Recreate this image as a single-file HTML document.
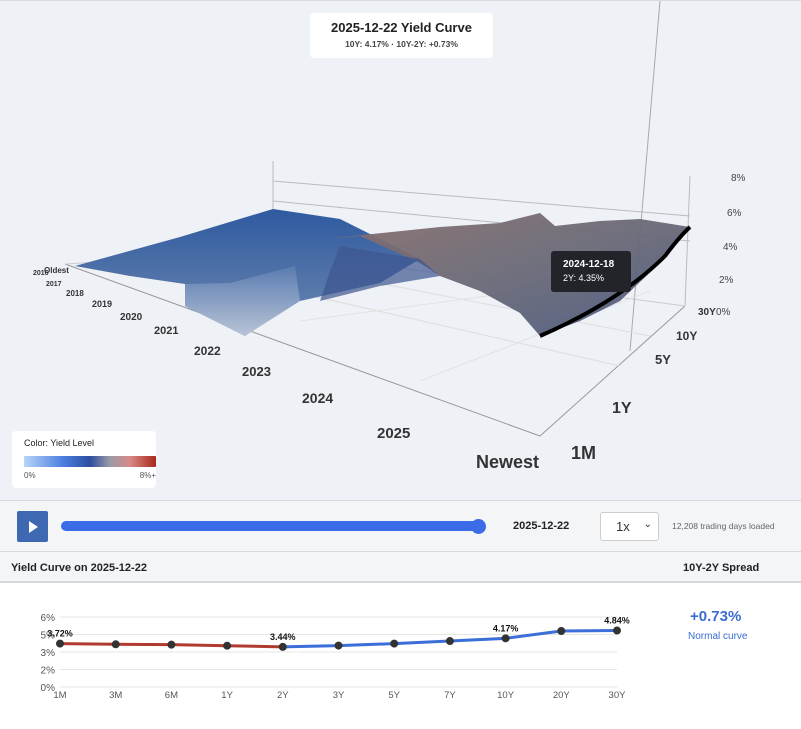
<!DOCTYPE html>
<html><head><meta charset="utf-8">
<style>
*{margin:0;padding:0;box-sizing:border-box}
body{width:801px;height:724px;overflow:hidden;font-family:"Liberation Sans",sans-serif;background:#fff;position:relative}
#scene{position:absolute;left:0;top:0;width:801px;height:500px;background:#eef1f6;border-top:1px solid #d8dbe0}
.abs{position:absolute}
#title-box{left:310px;top:12px;width:183px;height:45px;background:#fff;border-radius:4px;text-align:center}
#legend-box{left:12px;top:430px;width:144px;height:57px;background:#fff;border-radius:4px}
#controls{left:0;top:500px;width:801px;height:52px;background:#f4f5f7;border-top:1px solid #d6d8dc;border-bottom:1px solid #d6d8dc}
#hdr{left:0;top:552px;width:801px;height:31px;background:#f4f5f7;border-bottom:2px solid #d6d8dc;font-size:11px;font-weight:bold;color:#222}
#panel{left:0;top:584px;width:801px;height:140px;background:#fff}
</style></head><body>
<div id="scene">
<svg width="801" height="500">
 <defs>
  <linearGradient id="gb" x1="0" y1="0" x2="0" y2="1"><stop offset="0" stop-color="#2e5aa0"/><stop offset="1" stop-color="#6f88b0"/></linearGradient>
  <linearGradient id="gd" x1="0" y1="0" x2="0" y2="1"><stop offset="0" stop-color="#5a7bb0"/><stop offset="1" stop-color="#b8c4d6"/></linearGradient>
  <linearGradient id="gg" x1="0" y1="0" x2="1" y2="1"><stop offset="0" stop-color="#8a6f6c"/><stop offset="0.5" stop-color="#6a6a78"/><stop offset="1" stop-color="#4d5a80"/></linearGradient>
  <linearGradient id="cs" x1="0" x2="1"><stop offset="0" stop-color="#b8d4f8"/><stop offset="0.3" stop-color="#4a7ee0"/><stop offset="0.5" stop-color="#2d4e9e"/><stop offset="0.65" stop-color="#9a9aa8"/><stop offset="0.8" stop-color="#d88a88"/><stop offset="1" stop-color="#a8281c"/></linearGradient>
 </defs>
 <g stroke="#bbb" stroke-width="1" fill="none">
  <line x1="273" y1="160" x2="273" y2="265"/>
  <line x1="690" y1="175" x2="685" y2="305"/>
  <line x1="273" y1="180" x2="690" y2="215"/>
  <line x1="273" y1="200" x2="690" y2="240"/>
  <line x1="65" y1="263" x2="540" y2="435" stroke="#999"/>
  <line x1="540" y1="435" x2="685" y2="305" stroke="#999"/>
  <line x1="65" y1="263" x2="273" y2="250" stroke="#ccc"/>
  <line x1="273" y1="250" x2="685" y2="305" stroke="#ccc"/>
  <line x1="660" y1="0" x2="630" y2="350" stroke="#aaa"/>
  <line x1="150" y1="258" x2="620" y2="365" stroke="#ddd"/>
  <line x1="230" y1="253" x2="650" y2="335" stroke="#ddd"/>
  <line x1="300" y1="320" x2="600" y2="280" stroke="#e2e2e2"/>
  <line x1="420" y1="380" x2="650" y2="290" stroke="#e2e2e2"/>
 </g>
 <polygon fill="url(#gb)" points="75,265 180,236 273,208 300,212 340,218 420,258 380,282 300,300 290,300 245,335 185,305 185,283 130,275"/>
 <polygon fill="url(#gd)" points="185,283 230,282 295,265 300,300 245,335 185,305"/>
 <polygon fill="url(#gg)" opacity="0.95" points="325,238 440,226 500,222 540,212 555,225 600,220 640,218 690,226 660,262 620,300 580,320 540,335 520,312 480,290 440,275 420,262 360,235"/>
 <polygon fill="#3d5590" opacity="0.7" points="340,245 420,258 440,275 380,285 320,300 330,270"/>
 <path d="M540,335 Q620,300 665,255 Q680,235 690,226" stroke="#000" stroke-width="4" fill="none"/>
 <g font-family="Liberation Sans,sans-serif" fill="#333" font-weight="bold">
  <text x="33" y="274" font-size="7">2016</text>
  <text x="44" y="272" font-size="8">Oldest</text>
  <text x="46" y="285" font-size="7">2017</text>
  <text x="66" y="295" font-size="8">2018</text>
  <text x="92" y="306" font-size="9">2019</text>
  <text x="120" y="319" font-size="10">2020</text>
  <text x="154" y="333" font-size="11">2021</text>
  <text x="194" y="354" font-size="12">2022</text>
  <text x="242" y="375" font-size="13">2023</text>
  <text x="302" y="402" font-size="14">2024</text>
  <text x="377" y="437" font-size="15">2025</text>
  <text x="476" y="467" font-size="18">Newest</text>
 </g>
 <g font-family="Liberation Sans,sans-serif" fill="#333" font-weight="bold">
  <text x="571" y="458" font-size="18">1M</text>
  <text x="612" y="412" font-size="16">1Y</text>
  <text x="655" y="363" font-size="13">5Y</text>
  <text x="676" y="339" font-size="12">10Y</text>
  <text x="698" y="314" font-size="10">30Y</text>
 </g>
 <g font-family="Liberation Sans,sans-serif" fill="#444" font-size="10">
  <text x="731" y="180">8%</text><text x="727" y="215">6%</text><text x="723" y="249">4%</text><text x="719" y="282">2%</text><text x="716" y="314">0%</text>
 </g>
 <g>
  <rect x="551" y="250" width="80" height="41" rx="3" fill="#222429"/>
  <text x="563" y="266" fill="#fff" font-size="10" font-weight="bold" font-family="Liberation Sans,sans-serif">2024-12-18</text>
  <text x="563" y="280" fill="#fff" font-size="9" font-family="Liberation Sans,sans-serif">2Y: 4.35%</text>
 </g>
</svg>
<div id="title-box" class="abs">
 <div style="font-size:13px;font-weight:bold;color:#222;margin-top:7px">2025-12-22 Yield Curve</div>
 <div style="font-size:8.5px;font-weight:bold;color:#444;margin-top:4px">10Y: 4.17% · 10Y-2Y: +0.73%</div>
</div>
<div id="legend-box" class="abs">
 <div style="font-size:9px;color:#222;margin:7px 0 0 12px">Color: Yield Level</div>
 <svg width="144" height="30" style="position:absolute;left:0;top:22px"><rect x="12" y="3" width="132" height="11" rx="1" fill="url(#cs)"/>
 <text x="12" y="25" font-size="8" fill="#555" font-family="Liberation Sans,sans-serif">0%</text><text x="144" y="25" font-size="8" fill="#555" text-anchor="end" font-family="Liberation Sans,sans-serif">8%+</text></svg>
</div>
</div>
<div id="controls" class="abs">
 <div class="abs" style="left:17px;top:10px;width:31px;height:31px;background:#3e68b2;border-radius:2px">
  <div style="position:absolute;left:12px;top:10px;border-left:9px solid #fff;border-top:6px solid transparent;border-bottom:6px solid transparent"></div></div>
 <div class="abs" style="left:61px;top:20px;width:420px;height:10px;background:#3b6ce8;border-radius:5px"></div>
 <div class="abs" style="left:471px;top:18px;width:15px;height:15px;background:#3b6ce8;border-radius:50%"></div>
 <div class="abs" style="left:513px;top:19px;font-size:11px;font-weight:bold;color:#222">2025-12-22</div>
 <div class="abs" style="left:600px;top:11px;width:59px;height:29px;background:#fff;border:1px solid #ccc;border-radius:3px;font-size:13px;color:#333;padding:6px 0 0 15px">1x<span style="position:absolute;right:6px;top:6px;font-size:10px">⌄</span></div>
 <div class="abs" style="left:672px;top:20px;font-size:8.5px;color:#666">12,208 trading days loaded</div>
</div>
<div id="hdr" class="abs">
 <span class="abs" style="left:11px;top:10px">Yield Curve on 2025-12-22</span>
 <span class="abs" style="left:683px;top:10px">10Y-2Y Spread</span>
</div>
<div id="panel" class="abs">
 <svg id="curve" width="680" height="140"></svg>
 <div class="abs" style="left:690px;top:24px;font-size:15px;font-weight:bold;color:#3b6dd0">+0.73%</div>
 <div class="abs" style="left:688px;top:47px;font-size:10px;color:#3b6dd0">Normal curve</div>
</div>
<script>
const maturities=["1M","3M","6M","1Y","2Y","3Y","5Y","7Y","10Y","20Y","30Y"];
const yields=[3.72,3.66,3.63,3.54,3.44,3.55,3.72,3.94,4.17,4.80,4.84];
const yTicks=[0,1.5,3,4.5,6];
const labeled=[0,4,8,10];
const svg=document.getElementById('curve');
const NS='http://www.w3.org/2000/svg';
const OY=584;
function xs(i){return 60+i*(557/(maturities.length-1));}
function ys(v){return (687-OY)-v*(70/6);}
function mk(t,a){const e=document.createElementNS(NS,t);for(const k in a)e.setAttribute(k,a[k]);svg.appendChild(e);return e;}
yTicks.forEach(v=>{
 const l=mk('line',{x1:60,x2:617,y1:ys(v),y2:ys(v),stroke:'#e6e6e6'});
 
 
 const t=mk('text',{x:55,y:ys(v)+4,'text-anchor':'end','font-size':10,fill:'#555','font-family':'Liberation Sans,sans-serif'});
 t.textContent=v.toFixed(0)+'%';
 
 
});
maturities.forEach((m,i)=>{
 const t=mk('text',{x:xs(i),y:114,'text-anchor':'middle','font-size':9.5,fill:'#555','font-family':'Liberation Sans,sans-serif'});
 t.textContent=m;
 
 
});
for(let i=0;i<yields.length-1;i++){
 const l=mk('line',{x1:xs(i),y1:ys(yields[i]),x2:xs(i+1),y2:ys(yields[i+1]),stroke:i<4?'#b03a2e':'#3b6ed8','stroke-width':3,'stroke-linecap':'round'});
 
 
}
yields.forEach((v,i)=>{
 const c=mk('circle',{cx:xs(i),cy:ys(v),r:4,fill:'#333'});
 
 
 if(labeled.includes(i)){
  const t=mk('text',{x:xs(i),y:ys(v)-7,'text-anchor':'middle','font-size':9,'font-weight':'bold',fill:'#111','font-family':'Liberation Sans,sans-serif'});
  t.textContent=v.toFixed(2)+'%';
  
  
 }
});
</script>
</body></html>
